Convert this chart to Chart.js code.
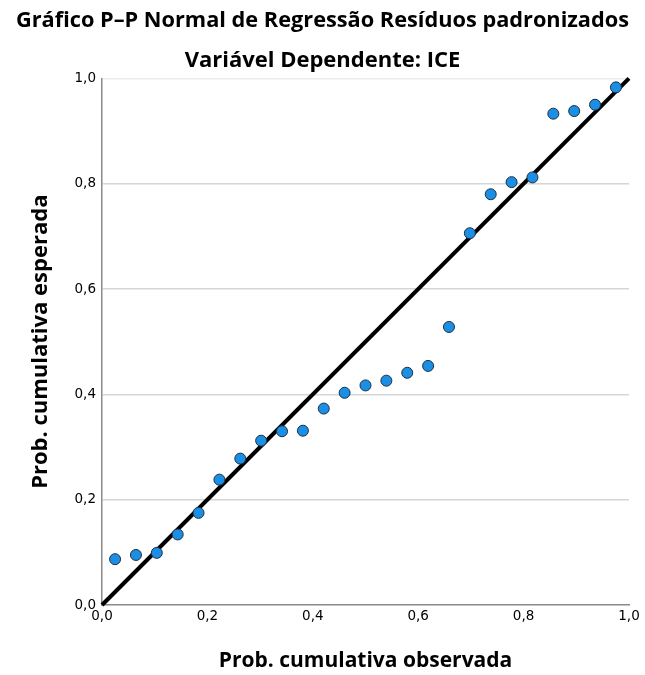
<!DOCTYPE html>
<html>
<head>
<meta charset="utf-8">
<script src="https://cdn.jsdelivr.net/npm/chart.js@4/dist/chart.umd.min.js"></script>
<style>
  html, body { margin: 0; padding: 0; background: #fff; }
  #wrap { width: 645px; height: 675px; }
</style>
</head>
<body>
<div id="wrap"><canvas id="c" width="645" height="675"></canvas></div>
<script>
const observedProb = [0.0248, 0.0644, 0.1040, 0.1436, 0.1832, 0.2228, 0.2624, 0.3020, 0.3416, 0.3812,
                      0.4208, 0.4604, 0.5000, 0.5396, 0.5792, 0.6188, 0.6584, 0.6980, 0.7376, 0.7772,
                      0.8168, 0.8564, 0.8960, 0.9356, 0.9752];
const expectedProb = [0.087, 0.095, 0.099, 0.134, 0.175, 0.238, 0.278, 0.312, 0.330, 0.331,
                      0.373, 0.403, 0.417, 0.426, 0.441, 0.454, 0.528, 0.706, 0.780, 0.803,
                      0.812, 0.933, 0.938, 0.950, 0.983];
const refLineX = [0, 1];
const refLineY = [0, 1];
const tickValues = [0, 0.2, 0.4, 0.6, 0.8, 1.0];
const tickLabels = ['0,0', '0,2', '0,4', '0,6', '0,8', '1,0'];

const titleText = 'Gráfico P–P Normal de Regressão Resíduos padronizados';
const subtitleText = 'Variável Dependente: ICE';
const xTitle = 'Prob. cumulativa observada';
const yTitle = 'Prob. cumulativa esperada';

const points = observedProb.map((x, i) => ({ x: x, y: expectedProb[i] }));
const line = refLineX.map((x, i) => ({ x: x, y: refLineY[i] }));

function setTicks(scale) {
  scale.ticks = tickValues.map(v => ({ value: v }));
}
function fmt(v) {
  const i = tickValues.findIndex(t => Math.abs(t - v) < 1e-9);
  return i >= 0 ? tickLabels[i] : '';
}

const TF = '"Open Sans", "DejaVu Sans", sans-serif';
const KF = '"DejaVu Sans", sans-serif';

new Chart(document.getElementById('c'), {
  type: 'scatter',
  data: {
    datasets: [
      {
        type: 'line',
        data: line,
        borderColor: '#000000',
        borderWidth: 4,
        pointRadius: 0,
        fill: false,
        order: 2,
        clip: false
      },
      {
        data: points,
        backgroundColor: '#1a8fe3',
        borderColor: '#1b2f45',
        borderWidth: 1,
        pointRadius: 5.5,
        order: 1,
        clip: false
      }
    ]
  },
  options: {
    responsive: false,
    animation: false,
    devicePixelRatio: 1,
    layout: { padding: { left: 16, right: 16, top: 0, bottom: 0 } },
    plugins: {
      legend: { display: false },
      tooltip: { enabled: false },
      title: {
        display: true,
        text: titleText,
        color: '#000',
        font: { family: TF, size: 22, weight: '700' },
        padding: { top: 8, bottom: 13.6 }
      },
      subtitle: {
        display: true,
        text: subtitleText,
        color: '#000',
        font: { family: TF, size: 22, weight: '700' },
        padding: { top: 0, bottom: 4 }
      }
    },
    scales: {
      x: {
        type: 'linear',
        min: 0, max: 1,
        afterBuildTicks: setTicks,
        afterFit: s => { s.height = 70; },
        grid: { display: false, drawTicks: false },
        border: { display: true, color: '#8a8a8a', width: 1.5 },
        ticks: { callback: fmt, color: '#000', padding: 3, maxRotation: 0,
                 font: { family: KF, size: 13.5 } },
        title: { display: true, text: xTitle, color: '#000', padding: { top: 12, bottom: 1.5 },
                 font: { family: TF, size: 21, weight: '700' } }
      },
      y: {
        type: 'linear',
        min: 0, max: 1,
        afterBuildTicks: setTicks,
        afterFit: s => { s.width = 86; },
        grid: {
          drawTicks: false,
          lineWidth: 1.5,
          color: ctx => (ctx.tick && ctx.tick.value === 0) ? 'rgba(0,0,0,0)' :
                        (ctx.tick && ctx.tick.value === 1) ? '#ececec' : '#d6d6d6'
        },
        border: { display: true, color: '#8a8a8a', width: 1.5 },
        ticks: { callback: fmt, color: '#000', padding: 6,
                 font: { family: KF, size: 13.5 } },
        title: { display: true, text: yTitle, color: '#000', padding: { top: 12, bottom: 0 },
                 font: { family: TF, size: 22, weight: '700' } }
      }
    }
  }
});
</script>
</body>
</html>
